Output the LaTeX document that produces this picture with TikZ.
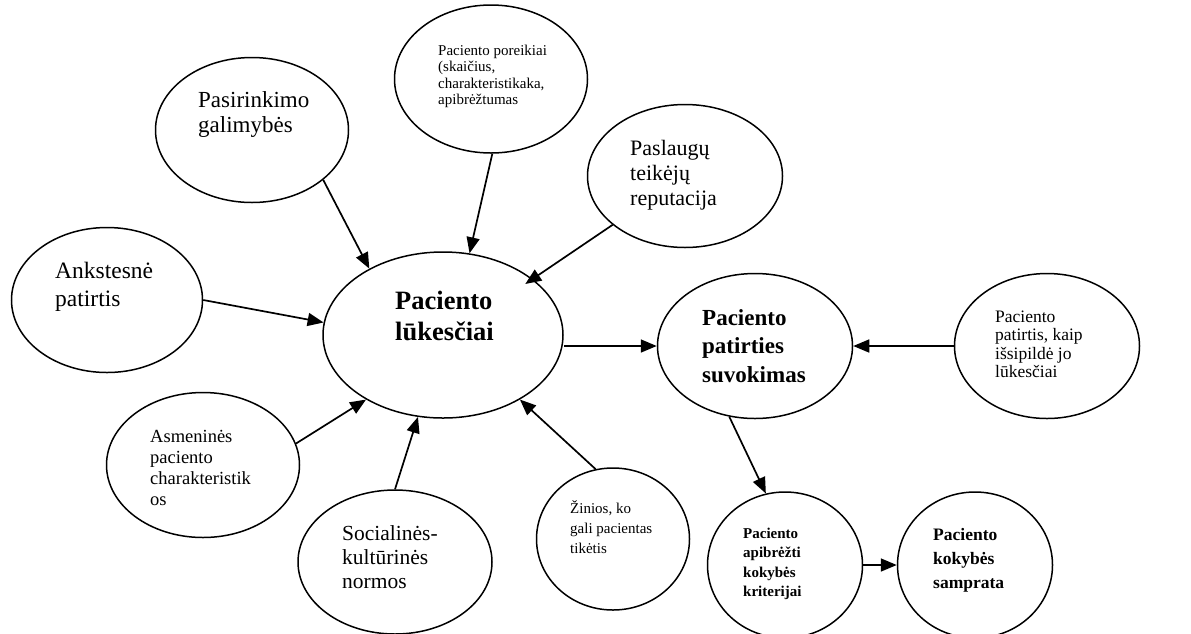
\documentclass[tikz,border=0pt]{standalone}
\usepackage{fontspec}
\setmainfont{Liberation Serif}
\usetikzlibrary{shapes.geometric,arrows.meta}

\begin{document}
\begin{tikzpicture}[x=1pt,y=-1pt,
  ell/.style 2 args={draw, ellipse, line width=1.5pt, inner sep=0pt,
                     minimum width=#1pt, minimum height=#2pt},
  lbl/.style={anchor=north west, inner sep=0pt, align=left},
  arr/.style={line width=1.7pt, -{Triangle[length=16pt,width=13pt]}},
]
\useasboundingbox (0,0) rectangle (1191,633);
\clip (0,0) rectangle (1191,633);

% factors around the central node
\node[ell={193}{145}] (A) at (252,130) {};
\node[ell={193}{148}] (B) at (491,79) {};
\node[ell={195}{143}] (C) at (685,176) {};
\node[ell={191}{145}] (D) at (107,300) {};
\node[ell={240}{166}] (M) at (443,335) {};
\node[ell={193}{145}] (E) at (203,465) {};
\node[ell={194}{144}] (F) at (395,562) {};
\node[ell={153}{142}] (G) at (613,539) {};
% right-hand chain
\node[ell={195}{145}] (S) at (755,346) {};
\node[ell={185}{145}] (P) at (1047,346) {};
\node[ell={155}{146}] (K) at (785,565) {};
\node[ell={155}{146}] (Q) at (975,565) {};

% texts
\node[lbl, font=\fontsize{23}{25.5}\selectfont] (tA) at (198,89.15)
  {\strut Pasirinkimo\\galimybės};
\node[lbl, font=\fontsize{15}{16.5}\selectfont] (tB) at (438,43.45)
  {\strut Paciento poreikiai\\(skaičius,\\charakteristikaka,\\apibrėžtumas};
\node[lbl, font=\fontsize{22}{25}\selectfont] (tC) at (630,137.5)
  {\strut Paslaugų\\teikėjų\\reputacija};
\node[lbl, font=\fontsize{23.5}{28}\selectfont] (tD) at (55,258.4)
  {\strut Ankstesnė\\patirtis};
\node[lbl, font=\bfseries\fontsize{26.5}{31}\selectfont] (tM) at (395,287.3)
  {\strut Paciento\\lūkesčiai};
\node[lbl, font=\fontsize{18.5}{21}\selectfont] (tE) at (150,427.3)
  {\strut Asmeninės\\paciento\\charakteristik\\os};
\node[lbl, font=\fontsize{21.5}{24}\selectfont] (tF) at (342,523.2)
  {\strut Socialinės-\\kultūrinės\\normos};
\node[lbl, font=\fontsize{15}{20}\selectfont] (tG) at (570,499)
  {\strut Žinios, ko\\gali pacientas\\tikėtis};
\node[lbl, font=\bfseries\fontsize{23}{28.5}\selectfont] (tS) at (702,305.05)
  {\strut Paciento\\patirties\\suvokimas};
\node[lbl, font=\fontsize{17.5}{18.5}\selectfont] (tP) at (995,309.05)
  {\strut Paciento\\patirtis, kaip\\išsipildė jo\\lūkesčiai};
\node[lbl, font=\bfseries\fontsize{15}{19.5}\selectfont] (tK) at (743,524.35)
  {\strut Paciento\\apibrėžti\\kokybės\\kriterijai};
\node[lbl, font=\bfseries\fontsize{17.5}{24}\selectfont] (tQ) at (933,523.2)
  {\strut Paciento\\kokybės\\samprata};

% connectors
\draw[arr] (A.-35.2) -- (M.138.3);
\draw[arr] (B.-89) -- (M.72.4);
\draw[arr, shorten >=-9pt] (C.214.9) -- (M.32.3);
\draw[arr] (D.0) -- (M.174.8);
\draw[arr] (E.13.3) -- (M.220.8);
\draw[arr] (F.90) -- (M.253.8);
\draw[arr] (G.104.2) -- (M.-40);
\draw[arr] (S.west -| M.east) -- (S.west);
\draw[arr] (P.west) -- (S.east);
\draw[arr] (S.-110.3) -- (K.105.3);
\draw[arr] (K.east) -- (Q.west);
\end{tikzpicture}
\end{document}
